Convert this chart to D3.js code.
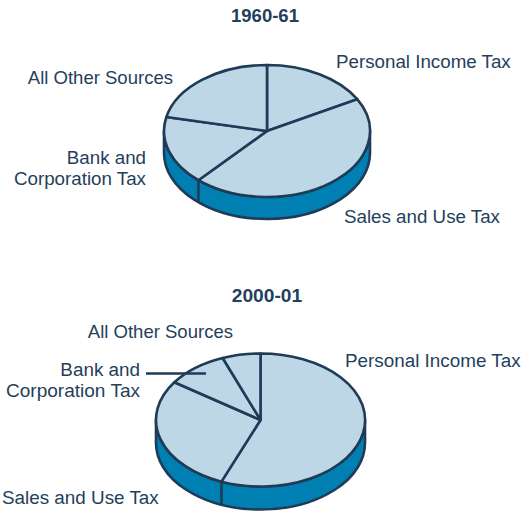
<!DOCTYPE html>
<html><head><meta charset="utf-8">
<script src="https://cdn.jsdelivr.net/npm/d3@7"></script>
<style>html,body{margin:0;padding:0;background:#fff}svg{display:block}
text{font-family:"Liberation Sans",Arial,sans-serif;fill:#243f5c}</style></head>
<body><svg id="c" width="524" height="511"></svg>
<script>
const categories = ["Personal Income Tax","Sales and Use Tax","Bank and Corporation Tax","All Other Sources"];
const values1960 = [17.0,44.6,16.8,21.6];
const values2000 = [56.1,28.5,9.5,5.9];
const titles = ["1960-61","2000-01"];

const ink="#1f3b57", top_="#bdd7e7", side="#0080b2";
const svg=d3.select("#c");

function drawPie(vals,o){
  const g=svg.append("g");
  const arcs=d3.pie().sort(null).value(d=>d)(vals);
  const px=a=>o.cx+o.rx*Math.sin(a), py=(a,dy=0)=>o.cy-o.ry*Math.cos(a)+dy;
  // side wall
  g.append("path").attr("d",`M${o.cx-o.rx},${o.cy}A${o.rx},${o.ry} 0 0 0 ${o.cx+o.rx},${o.cy}V${o.cy+o.depth}A${o.rx},${o.ry} 0 0 1 ${o.cx-o.rx},${o.cy+o.depth}Z`)
   .attr("fill",side).attr("stroke",ink).attr("stroke-width",2.6).attr("stroke-linejoin","round");
  // side divider at visible slice boundaries
  arcs.forEach(a=>{
    const e=a.endAngle;
    if(e>Math.PI/2+0.01&&e<Math.PI*1.5-0.01){
      g.append("line").attr("x1",px(e)).attr("y1",py(e)).attr("x2",px(e)).attr("y2",py(e,o.depth))
       .attr("stroke",ink).attr("stroke-width",2.6);
    }
  });
  // top slices
  const arc=d3.arc().innerRadius(0).outerRadius(1);
  g.append("g").attr("transform",`translate(${o.cx},${o.cy}) scale(${o.rx},${o.ry})`)
   .selectAll("path").data(arcs).join("path").attr("d",arc)
   .attr("fill",top_).attr("stroke",ink).attr("stroke-width",2.6)
   .attr("stroke-linejoin","round").attr("vector-effect","non-scaling-stroke");
}

drawPie(values1960,{cx:267,cy:131,rx:103,ry:66,depth:22});
drawPie(values2000,{cx:260.5,cy:420,rx:104.5,ry:66.5,depth:23});

// leader line
svg.append("line").attr("x1",146).attr("x2",206).attr("y1",373.5).attr("y2",373.5).attr("stroke",ink).attr("stroke-width",2.6);

const T=(s,x,y,fs,a="start",b=false)=>svg.append("text").attr("x",x).attr("y",y).attr("text-anchor",a)
  .style("font-size",fs+"px").style("font-weight",b?"bold":"normal").text(s);
T(titles[0],265,22,18.5,"middle",true);
T(titles[1],267,302,19.2,"middle",true);
const [pit,sut,bct,aos]=categories;
const [b1,b2]=[bct.slice(0,8),bct.slice(9)];
const f1=18.75,f2=18.85;
T(pit,336,68,f1);T(aos,173,84,18.55,"end");T(b1,146,164,f1,"end");T(b2,146,185,f1,"end");T(sut,344,223,f1);
T(pit,345,367,f2);T(aos,233,338,18.55,"end");T(b1,140,376,f2,"end");T(b2,140,397,19.05,"end");T(sut,2,504,f2);
</script></body></html>
